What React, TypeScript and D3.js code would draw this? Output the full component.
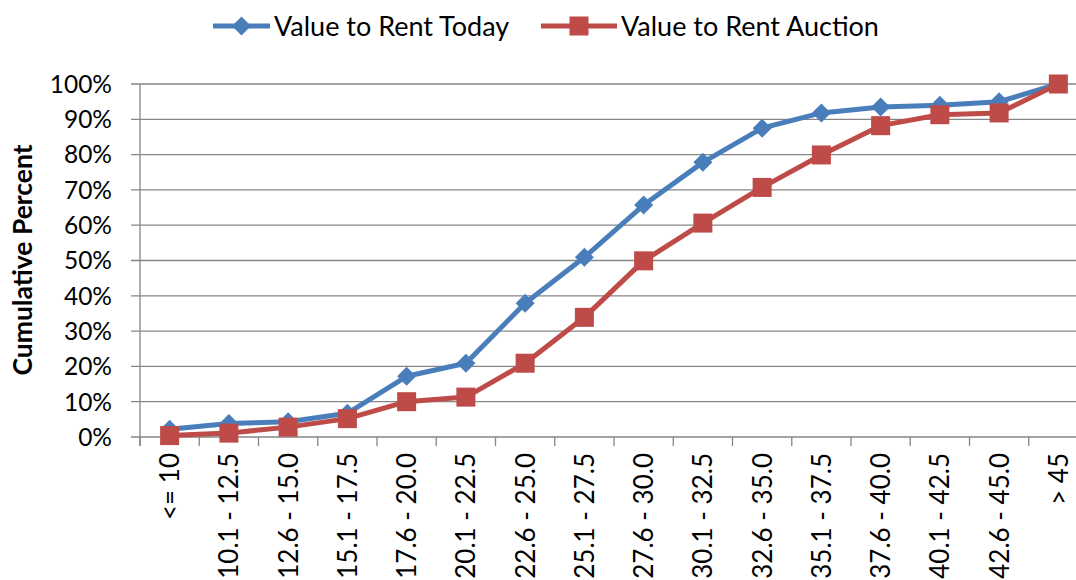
import React from 'react';
import * as d3 from 'd3';

const categories = [
  '<= 10', '10.1 - 12.5', '12.6 - 15.0', '15.1 - 17.5', '17.6 - 20.0', '20.1 - 22.5',
  '22.6 - 25.0', '25.1 - 27.5', '27.6 - 30.0', '30.1 - 32.5', '32.6 - 35.0', '35.1 - 37.5',
  '37.6 - 40.0', '40.1 - 42.5', '42.6 - 45.0', '> 45',
];
const rentToday = [2.2, 3.8, 4.3, 6.7, 17.2, 20.9, 37.9, 50.9, 65.7, 77.8, 87.5, 91.8, 93.5, 94.0, 95.0, 100];
const rentAuction = [0.4, 1.1, 2.8, 5.2, 10.0, 11.3, 20.9, 33.9, 49.9, 60.6, 70.7, 79.9, 88.2, 91.3, 91.8, 100];
const yTicks = [0, 10, 20, 30, 40, 50, 60, 70, 80, 90, 100];

const series = [
  { name: 'Value to Rent Today', values: rentToday, color: '#4A7EBB', marker: 'diamond' },
  { name: 'Value to Rent Auction', values: rentAuction, color: '#BE4B48', marker: 'square' },
];

const W = 1076;
const H = 580;
const font = 'Lato, "Open Sans", sans-serif';

function Marker({ kind, x, y, color }: { kind: string; x: number; y: number; color: string }) {
  if (kind === 'diamond') {
    const r = 9.5;
    return <path d={`M${x},${y - r}L${x + r},${y}L${x},${y + r}L${x - r},${y}Z`} fill={color} />;
  }
  const s = 19;
  return <rect x={x - s / 2} y={y - s / 2} width={s} height={s} fill={color} />;
}

export default function App() {
  const x = d3.scaleBand().domain(categories).range([140, 1088]);
  const y = d3.scaleLinear().domain([0, 100]).range([437, 84]);
  const cx = (c: string) => (x(c) ?? 0) + x.bandwidth() / 2;
  const line = d3
    .line<number>()
    .x((_, i) => cx(categories[i]))
    .y(d => y(d));

  const legend = [
    { lx: 213, tx: 274 },
    { lx: 541, tx: 621 },
  ];

  return (
    <svg width={W} height={H} style={{ position: 'absolute', left: 0, top: 0 }} fontFamily={font}>
      {/* grid */}
      {yTicks.map(t => (
        <g key={t}>
          <line x1={131} x2={1088} y1={y(t)} y2={y(t)} stroke="#868686" strokeWidth={1.3} />
          <text x={112} y={y(t)} dy="0.36em" textAnchor="end" fontSize={24.5} fill="#000">
            {t}%
          </text>
        </g>
      ))}
      <line x1={140} x2={140} y1={84} y2={446} stroke="#868686" strokeWidth={1.3} />
      {categories.map((c, i) => (
        <g key={c}>
          <line x1={140 + i * x.bandwidth()} x2={140 + i * x.bandwidth()} y1={437} y2={446} stroke="#868686" strokeWidth={1.3} />
          <text
            transform={`translate(${cx(c)},453) rotate(-90)`}
            dy="0.36em"
            textAnchor="end"
            fontSize={26}
            fill="#000"
          >
            {c}
          </text>
        </g>
      ))}
      <text
        transform="translate(22,260) rotate(-90)"
        dy="0.36em"
        textAnchor="middle"
        fontSize={26.5}
        fontWeight="bold"
        fill="#000"
      >
        Cumulative Percent
      </text>

      {series.map(s => (
        <g key={s.name}>
          <path d={line(s.values) ?? ''} fill="none" stroke={s.color} strokeWidth={5} strokeLinejoin="round" />
          {s.values.map((v, i) => (
            <Marker key={i} kind={s.marker} x={cx(categories[i])} y={y(v)} color={s.color} />
          ))}
        </g>
      ))}

      {/* legend */}
      {series.map((s, i) => {
        const { lx, tx } = legend[i];
        const mid = (lx + tx - 4) / 2;
        return (
          <g key={s.name}>
            <line x1={lx} x2={tx - 4} y1={26} y2={26} stroke={s.color} strokeWidth={5} />
            <Marker kind={s.marker} x={mid} y={26} color={s.color} />
            <text x={tx} y={26} dy="0.36em" fontSize={27} fill="#000">
              {s.name}
            </text>
          </g>
        );
      })}
    </svg>
  );
}
